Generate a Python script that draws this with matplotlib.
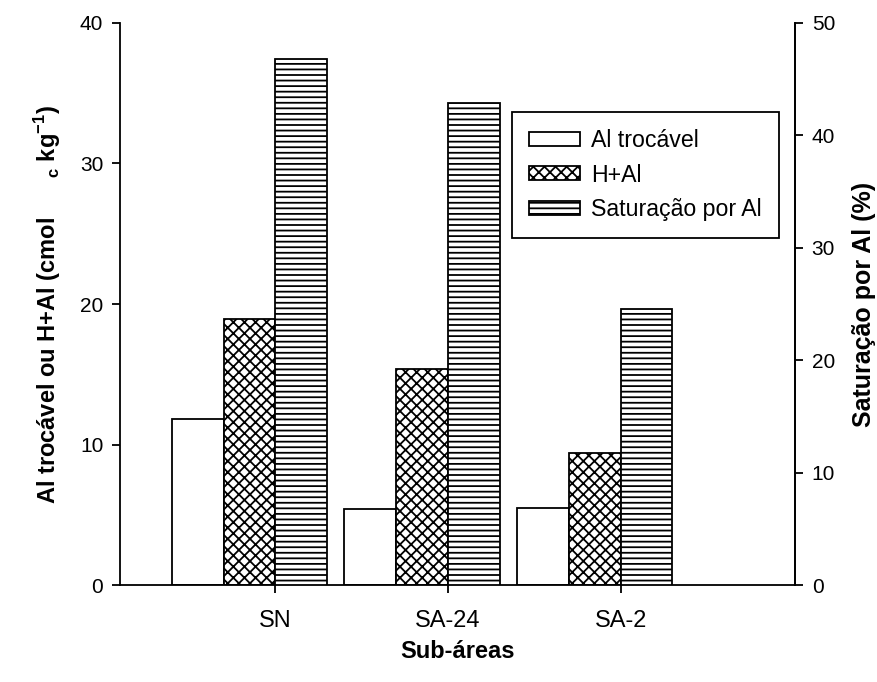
import matplotlib
matplotlib.use("Agg")
import matplotlib.pyplot as plt
import numpy as np

categories = ["SN", "SA-24", "SA-2"]
al_trocavel = [11.8, 5.4, 5.5]
h_al = [18.9, 15.35, 9.4]
saturacao = [46.8, 42.85, 24.55]
labels = ["Al trocável", "H+Al", "Saturação por Al"]

plt.rcParams['font.family'] = ['Liberation Sans', 'DejaVu Sans']
plt.rcParams['hatch.linewidth'] = 1.3
plt.rcParams['hatch.color'] = 'black'

fig = plt.figure(figsize=(8.77, 6.82), dpi=100)
ax = fig.add_axes([0.1368, 0.1422, 0.7697, 0.8241])
ax2 = ax.twinx()

x = np.arange(1, len(categories) + 1)
w = 0.3
b1 = ax.bar(x - 2 * w, al_trocavel, w, align='edge', facecolor='white', edgecolor='black', linewidth=1.3, label=labels[0])
b2 = ax.bar(x - w, h_al, w, align='edge', facecolor='white', edgecolor='black', linewidth=1.3, hatch='xxx', label=labels[1])
b3 = ax2.bar(x, saturacao, w, align='edge', facecolor='white', edgecolor='black', linewidth=1.3, hatch='---', label=labels[2])

ax.set_xlim(0.1, 4.01)
ax.set_ylim(0, 40)
ax2.set_ylim(0, 50)
ax.set_yticks([0, 10, 20, 30, 40])
ax2.set_yticks([0, 10, 20, 30, 40, 50])
ax.set_xticks(x)
ax.set_xticklabels(categories)

for a in (ax, ax2):
    a.spines['top'].set_visible(False)
    for s in a.spines.values():
        s.set_linewidth(1.3)
    a.tick_params(axis='both', direction='out', labelsize=15, width=1.3, length=6, pad=6)
ax.tick_params(axis='x', pad=12, labelsize=17)
ax2.spines['left'].set_visible(False)
ax2.spines['bottom'].set_visible(False)

ax.set_ylabel("Al trocável ou H+Al (cmol      $_\\mathregular{c}$ kg$^\\mathregular{-1}$)", fontsize=17, fontweight='bold', labelpad=12)
ax2.set_ylabel("Saturação por Al (%)", fontsize=18, fontweight='bold', labelpad=12)
ax.set_xlabel("Sub-áreas", fontsize=17, fontweight='bold', labelpad=6)

leg = ax2.legend([b1, b2, b3], labels, loc='upper left', bbox_to_anchor=(0.581, 0.841),
                 fontsize=16.7, frameon=True, fancybox=False, edgecolor='black', framealpha=1,
                 handlelength=2.2, handleheight=0.55, borderpad=0.72, labelspacing=0.5, handletextpad=0.5,
                 borderaxespad=0)
leg.get_frame().set_linewidth(1.3)

fig.savefig("out.png", dpi=100)
